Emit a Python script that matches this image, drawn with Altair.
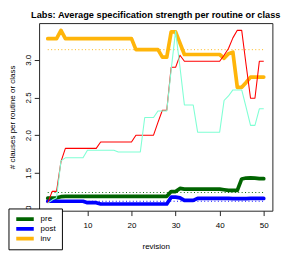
import altair as alt
import pandas as pd

# ---- data ----
revision = list(range(1, 51))

pre = [1.165, 1.165, 1.17, 1.185, 1.19, 1.19, 1.19, 1.19, 1.19, 1.19,
       1.19, 1.19, 1.19, 1.19, 1.19, 1.19, 1.19, 1.19, 1.19, 1.19,
       1.19, 1.19, 1.19, 1.19, 1.19, 1.19, 1.19, 1.19, 1.253, 1.253,
       1.295, 1.286, 1.286, 1.286, 1.286, 1.286, 1.286, 1.286, 1.286, 1.286,
       1.277, 1.268, 1.268, 1.268, 1.42, 1.432, 1.435, 1.43, 1.424, 1.424]

post = [1.124, 1.124, 1.124, 1.124, 1.124, 1.124, 1.124, 1.124, 1.124, 1.105,
        1.105, 1.105, 1.088, 1.088, 1.088, 1.088, 1.088, 1.088, 1.088, 1.088,
        1.088, 1.088, 1.088, 1.088, 1.088, 1.088, 1.088, 1.088, 1.179, 1.179,
        1.17, 1.136, 1.136, 1.136, 1.162, 1.162, 1.162, 1.162, 1.162, 1.162,
        1.162, 1.162, 1.16, 1.158, 1.158, 1.16, 1.162, 1.162, 1.162, 1.162]

inv = [3.28, 3.28, 3.28, 3.39, 3.28, 3.28, 3.28, 3.28, 3.28, 3.28,
       3.28, 3.28, 3.28, 3.28, 3.28, 3.28, 3.28, 3.28, 3.28, 3.28,
       3.135, 3.135, 3.135, 3.135, 3.135, 3.135, 3.035, 3.035, 3.37, 3.37,
       3.22, 3.07, 3.07, 3.07, 3.07, 3.07, 3.07, 3.07, 3.07, 3.07,
       3.02, 3.08, 3.10, 2.635, 2.635, 2.70, 2.77, 2.77, 2.77, 2.77]

routine = [1.10, 1.255, 1.255, 1.65, 1.825, 1.825, 1.825, 1.825, 1.825, 1.825,
           1.825, 1.825, 1.91, 1.91, 1.91, 1.91, 1.91, 1.91, 1.91, 1.91,
           2.0, 2.0, 2.0, 2.0, 2.0, 2.17, 2.33, 2.33, 2.9, 2.9,
           3.06, 2.98, 2.98, 2.98, 2.98, 2.98, 2.98, 2.98, 2.98, 2.98,
           3.06, 3.15, 3.29, 3.39, 3.39, 2.93, 2.49, 2.49, 2.98, 2.98]

klass = [1.10, 1.14, 1.17, 1.66, 1.70, 1.70, 1.70, 1.70, 1.70, 1.80,
         1.80, 1.80, 1.80, 1.80, 1.80, 1.80, 1.778, 1.778, 1.778, 1.778,
         1.778, 1.778, 2.235, 2.235, 2.235, 2.32, 2.32, 2.32, 2.87, 3.38,
         2.90, 2.40, 2.40, 2.40, 2.04, 2.04, 2.04, 2.04, 2.04, 2.04,
         2.46, 2.52, 2.60, 2.60, 2.60, 2.37, 2.13, 2.13, 2.35, 2.35]

series_names = ["pre", "post", "inv"]
series_colors = ["#006400", "#0000FF", "#FFB50A"]
ref_levels = [1.24, 1.124, 3.134]
thin_names = ["routine", "class"]
thin_colors = ["#FF0000", "#7FFFD4"]
x_ticks = [10, 20, 30, 40, 50]
y_ticks = [1.0, 1.5, 2.0, 2.5, 3.0]

n = len(revision)
thick = pd.DataFrame({
    "revision": revision * 3,
    "value": pre + post + inv,
    "series": ["pre"] * n + ["post"] * n + ["inv"] * n,
})
thin = pd.DataFrame({
    "revision": revision * 2,
    "value": routine + klass,
    "series": ["routine"] * n + ["class"] * n,
})
refs = pd.DataFrame({
    "series": series_names,
    "level": ref_levels,
    "start": [revision[0]] * 3,
    "end": [revision[-1]] * 3,
})

FONT = "Liberation Sans"
x_scale = alt.Scale(domain=[-0.96, 51.96], nice=False, zero=False)
y_scale = alt.Scale(domain=[0.999, 3.486], nice=False, zero=False)

x_axis = alt.Axis(values=x_ticks, title="revision", grid=False, domain=False,
                  tickSize=5, tickColor="#222", labelFontSize=8.2, labelFont=FONT,
                  labelColor="black", labelPadding=6, labelFlush=False, format="d",
                  titleFontSize=8.2, titleFont=FONT, titleFontWeight="normal",
                  titleColor="black", titleY=38.5, titleBaseline="alphabetic")
y_axis = alt.Axis(values=y_ticks, title="# clauses per routine or class", grid=False,
                  domain=False, tickSize=5, tickColor="#222", labelFontSize=8.2,
                  labelFont=FONT, labelColor="black", labelAngle=270, labelAlign="center",
                  labelBaseline="alphabetic", labelPadding=4, labelFlush=False,
                  format=".1f", titleFontSize=8.2, titleFont=FONT,
                  titleFontWeight="normal", titleColor="black", titleAngle=270,
                  titleAlign="center", titleBaseline="alphabetic", titleX=-25, titleY=96.5)

X = alt.X("revision:Q", scale=x_scale, axis=x_axis)
Y = alt.Y("value:Q", scale=y_scale, axis=y_axis)

rules = alt.Chart(refs).mark_rule(strokeDash=[1, 2.5], strokeWidth=1).encode(
    x=alt.X("start:Q", scale=x_scale, axis=x_axis),
    x2="end:Q",
    y=alt.Y("level:Q", scale=y_scale, axis=y_axis),
    color=alt.Color("series:N", scale=alt.Scale(domain=series_names, range=series_colors),
                    legend=None),
)

thick_lines = alt.Chart(thick).mark_line(strokeWidth=3.8, strokeCap="round",
                                         strokeJoin="round").encode(
    x=X, y=Y,
    color=alt.Color("series:N", scale=alt.Scale(domain=series_names, range=series_colors),
                    legend=alt.Legend(orient="none", legendX=-31.5, legendY=190.7,
                                      title=None, fillColor="white", strokeColor="black",
                                      padding=6, symbolType="stroke", symbolSize=324,
                                      symbolStrokeWidth=4, labelFontSize=8.2,
                                      labelFont=FONT, labelFontWeight="normal",
                                      labelColor="black", labelOffset=5,
                                      rowPadding=0, clipHeight=10)),
    detail="series:N",
)

thin_lines = alt.Chart(thin).mark_line(strokeWidth=1.1, strokeJoin="round").encode(
    x=X, y=Y,
    color=alt.Color("series:N", scale=alt.Scale(domain=thin_names, range=thin_colors),
                    legend=None),
)

chart = alt.layer(rules, thick_lines, thin_lines).resolve_scale(
    color="independent"
).properties(
    width=240, height=193,
    autosize=alt.AutoSizeParams(type="none"),
    padding={"left": 32, "top": 12, "right": 14, "bottom": 41},
    title=alt.TitleParams(text="Labs: Average specification strength per routine or class",
                          fontSize=9.5, font=FONT, fontWeight="bold", anchor="middle",
                          baseline="alphabetic", offset=-4.0, color="black", frame="group"),
    background="white",
).configure_view(stroke="#222", strokeWidth=1)

chart.save("out.html", embed_options={"renderer": "svg", "actions": False})
